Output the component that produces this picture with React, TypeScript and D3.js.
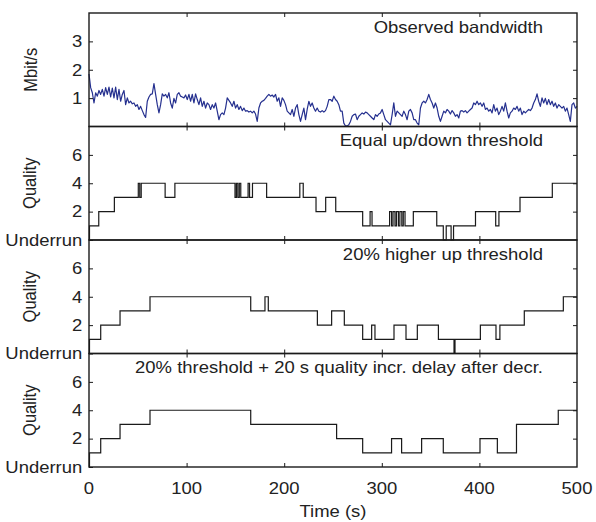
import * as d3 from "d3";
import { useEffect, useRef } from "react";

const W = 596;
const H = 522;
const margin = { top: 13, left: 89, right: 19, bottom: 55 };

// observed bandwidth, Mbit/s, evenly sampled over 0-500 s
const bandwidth = [
  1.85,
  1.37, 1.19, 0.83, 1.19, 1.07, 1.27, 1.13, 1.31, 1.07, 1.37,
  1.13, 1.39, 1.04, 1.35, 1.01, 1.39, 0.95, 1.31, 0.89, 1.13,
  1.27, 0.77, 1.01, 0.83, 0.89, 0.80, 0.83, 0.71, 0.77, 0.60,
  0.71, 0.56, 0.42, 0.32, 0.89, 1.04, 1.13, 1.15, 1.51, 1.13,
  0.77, 0.48, 0.77, 1.15, 1.07, 1.13, 1.01, 1.19, 0.83, 0.65,
  0.99, 0.83, 1.13, 1.19, 1.07, 1.04, 1.01, 1.11, 0.95, 1.13,
  0.89, 1.13, 0.83, 1.15, 0.95, 0.77, 1.01, 0.71, 0.89, 0.65,
  0.83, 0.77, 0.60, 0.77, 0.65, 0.83, 0.54, 0.24, 0.42, 0.48,
  0.42, 0.65, 1.01, 0.92, 0.83, 0.71, 0.89, 0.65, 0.77, 0.60,
  0.71, 0.56, 0.65, 0.54, 0.56, 0.51, 0.54, 0.48, 0.54, 0.44,
  0.18, 0.65, 0.83, 0.89, 0.92, 0.99, 1.07, 1.13, 1.07, 1.11,
  1.04, 1.13, 0.89, 1.01, 0.71, 1.01, 0.92, 0.77, 0.54, 0.48,
  0.42, 0.60, 0.36, 0.65, 0.77, 0.42, 0.18, 0.42, 0.65, 0.24,
  0.60, 0.89, 0.71, 0.83, 0.65, 0.54, 0.65, 0.54, 0.51, 0.56,
  0.51, 0.56, 0.71, 0.95,
  0.95, 0.89, 1.07, 0.95, 0.89, 0.77, 0.54, 0.54, 0.12, 0.02,
  0.02, 0.06, 0.18, 0.36, 0.42, 0.44, 0.24, 0.36, 0.42, 0.48,
  0.44, 0.51, 0.48, 0.42, 0.36, 0.30, 0.24, 0.42, 0.36, 0.44,
  0.48, 0.60, 0.42, 0.24, 0.18, 0.12, 0.06, 0.42, 0.83, 0.36,
  0.54, 0.48, 0.42, 0.36, 0.54, 0.42, 0.24, 0.54, 0.60, 0.48,
  0.24, 0.24, 0.12, 0.06, 0.65, 0.83, 0.89, 0.83, 0.95, 1.13,
  0.95, 0.83, 0.65, 0.83, 0.65, 0.36, 0.18, 0.36, 0.54, 0.48,
  0.60, 0.54, 0.44, 0.56, 0.48, 0.36, 0.42, 0.30, 0.54, 0.56,
  0.51, 0.56, 0.48, 0.54, 0.60, 0.65, 0.83, 0.77, 0.89, 0.77,
  0.83, 0.71, 0.83, 0.60, 0.65, 0.54, 0.60, 0.48, 0.77, 0.54,
  0.65, 0.42, 0.54, 0.71, 0.54, 0.83, 0.54, 0.30, 0.48, 0.54,
  0.65, 0.60, 0.71, 0.54, 0.65, 0.42, 0.54, 0.48, 0.54, 0.60,
  0.56, 0.65, 0.83, 0.95, 1.15, 0.89, 0.71, 1.01, 0.83, 0.99,
  0.77, 0.95, 0.77, 0.89, 0.71, 0.83, 0.65, 0.77, 0.71, 0.65,
  0.71, 0.54, 0.65, 0.42, 0.18, 0.77, 0.83, 0.65, 0.71
];

// quality level changes: [time (s), level], 0 = underrun
const equalSteps = [
  [0, 0], [0.5, 1], [10, 2], [26, 3], [50.5, 4], [52, 3], [53.5, 4], [78, 3], [88, 4],
  [149.6, 3], [151, 4], [152.5, 3], [154, 4], [155.5, 3], [163, 4], [164.5, 3], [167.5, 4],
  [182, 3], [216, 4], [219.5, 3], [232.6, 2], [242.5, 3], [252.8, 2], [280.4, 1], [288, 2],
  [290, 1], [308, 2], [310, 1], [311.5, 2], [313.5, 1], [315, 2], [317, 1], [318.5, 2],
  [320.5, 1], [322, 2], [323.8, 1], [332.3, 2], [356.3, 1], [363, 0], [366, 1], [371, 0],
  [373.5, 1], [396, 2], [416.7, 1], [420, 2], [441.6, 3], [474.7, 4], [500, 4]
];

const higherSteps = [
  [0, 0], [0.5, 1], [12, 2], [31.8, 3], [62.5, 4], [165.7, 3], [180.3, 4], [183.7, 3],
  [234, 2], [248.6, 3], [261.6, 2], [280.4, 1], [289.6, 2], [293, 1], [312.5, 2], [324.8, 1],
  [336.4, 2], [358, 1], [374, 0], [375, 1], [401, 2], [417, 1], [421, 2], [446, 3], [486, 4],
  [500, 4]
];

const delaySteps = [
  [0, 0], [0.5, 1], [12, 2], [31.8, 3], [62.5, 4], [165.7, 3], [253.7, 2], [280.4, 1],
  [310, 2], [320.3, 1], [340.8, 2], [363, 1], [400.6, 2], [418.4, 1], [438, 3], [480.8, 4],
  [500, 4]
];

const panelTitles = [
  "Observed bandwidth",
  "Equal up/down threshold",
  "20% higher up threshold",
  "20% threshold + 20 s quality incr. delay after decr."
];

const timeTicks = [0, 100, 200, 300, 400, 500];
const bwTicks = [1, 2, 3];
const qualityTicks = [0, 2, 4, 6];

const FONT = "'Liberation Sans', Arial, Helvetica, sans-serif";
const FS = 16.5;
const SX = 1.12; // the original lettering is a bit wide

const App = () => {
  const ref = useRef(null);

  useEffect(() => {
    const svg = d3.select(ref.current);
    svg.selectAll("*").remove();

    const x0 = margin.left, x1 = W - margin.right;
    const top = margin.top, bottom = H - margin.bottom;
    const panelH = (bottom - top) / 4;

    const x = d3.scaleLinear().domain([0, 500]).range([x0, x1]);

    const label = (px, py, text, anchor, rotate = false) => {
      const g = svg.append("g")
        .attr("transform", `translate(${px},${py}) scale(${SX},1)${rotate ? " rotate(-90)" : ""}`);
      g.append("text")
        .attr("text-anchor", anchor)
        .attr("font-family", FONT)
        .attr("font-size", FS)
        .attr("fill", "#222")
        .text(text);
    };

    const panels = [
      { domain: [0, 4], ticks: bwTicks, ylab: "Mbit/s", lx: 37 },
      { domain: [0, 8], ticks: qualityTicks, ylab: "Quality", steps: equalSteps, lx: 35.5 },
      { domain: [0, 8], ticks: qualityTicks, ylab: "Quality", steps: higherSteps, lx: 35.5 },
      { domain: [0, 8], ticks: qualityTicks, ylab: "Quality", steps: delaySteps, lx: 35.5 }
    ];

    panels.forEach((p, i) => {
      const y0 = top + i * panelH;
      const y1 = y0 + panelH;
      const y = d3.scaleLinear().domain(p.domain).range([y1, y0]);

      if (p.steps) {
        const line = d3.line()
          .x(d => x(d[0]))
          .y(d => y(d[1]))
          .curve(d3.curveStepAfter);
        svg.append("path")
          .attr("d", line(p.steps))
          .attr("fill", "none")
          .attr("stroke", "#1a1a1a")
          .attr("stroke-width", 1.2);
      } else {
        const line = d3.line()
          .x((d, j) => x(j * 500 / (bandwidth.length - 1)))
          .y(d => y(d))
          .curve(d3.curveLinear);
        svg.append("path")
          .attr("d", line(bandwidth))
          .attr("fill", "none")
          .attr("stroke", "#25308f")
          .attr("stroke-width", 1.2)
          .attr("stroke-linejoin", "round");
      }

      // tick marks, all inward
      const styleAxis = (g) => {
        g.select(".domain").remove();
        g.selectAll("line").attr("stroke", "#1a1a1a").attr("stroke-width", 1);
        g.attr("font-family", FONT).attr("font-size", FS);
      };

      svg.append("g")
        .attr("transform", `translate(${x0},0)`)
        .call(d3.axisLeft(y).tickValues(p.ticks).tickSize(-4).tickPadding(6)
          .tickFormat(d => (p.steps && d === 0 ? "Underrun" : String(d))))
        .call(styleAxis)
        .selectAll("text")
        .attr("fill", "#222")
        .attr("transform", `scale(${SX},1)`);

      svg.append("g")
        .attr("transform", `translate(${x1},0)`)
        .call(d3.axisRight(y).tickValues(p.ticks.filter(t => t > 0)).tickSize(-4).tickFormat(() => ""))
        .call(styleAxis);

      svg.append("g")
        .attr("transform", `translate(0,${y0})`)
        .call(d3.axisTop(x).tickValues(timeTicks.slice(1, -1)).tickSize(-4).tickFormat(() => ""))
        .call(styleAxis);

      svg.append("g")
        .attr("transform", `translate(0,${y1})`)
        .call(d3.axisBottom(x).tickValues(timeTicks.slice(1, -1)).tickSize(-4).tickFormat(() => ""))
        .call(styleAxis);

      svg.append("rect")
        .attr("x", x0)
        .attr("y", y0)
        .attr("width", x1 - x0)
        .attr("height", panelH)
        .attr("fill", "none")
        .attr("stroke", "#1a1a1a")
        .attr("stroke-width", 1.4);

      label(543, y0 + 19.5, panelTitles[i], "end");
      label(p.lx, (y0 + y1) / 2, p.ylab, "middle", true);
    });

    // time axis labels
    timeTicks.forEach(t => label(x(t), bottom + 26.5, String(t), "middle"));
    label((x0 + x1) / 2, 517, "Time (s)", "middle");
  }, []);

  return (
    <svg
      ref={ref}
      width={W}
      height={H}
      style={{ position: "absolute", left: 0, top: 0, background: "#fff" }}
    />
  );
};

export default App;
